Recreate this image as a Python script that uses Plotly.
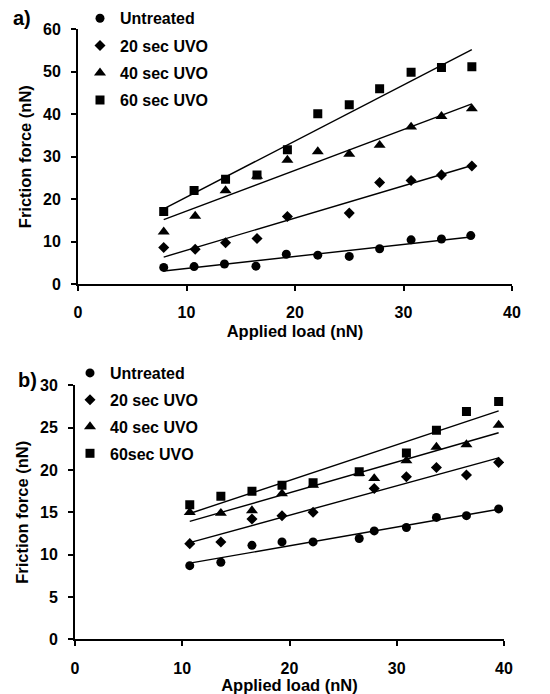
import numpy as np
import plotly.graph_objects as go

# ---- Panel a data ----
a_names = ["Untreated", "20 sec UVO", "40 sec UVO", "60 sec UVO"]
a_x_untreated = [7.9, 10.7, 13.5, 16.4, 19.2, 22.1, 25.0, 27.8, 30.7, 33.5, 36.2]
a_y_untreated = [3.9, 4.1, 4.7, 4.2, 7.0, 6.8, 6.5, 8.3, 10.4, 10.6, 11.4]
a_x_20 = [7.9, 10.8, 13.6, 16.5, 19.3, 25.0, 27.8, 30.7, 33.5, 36.3]
a_y_20 = [8.6, 8.2, 9.7, 10.7, 15.9, 16.7, 23.9, 24.4, 25.7, 27.8]
a_x_40 = [7.9, 10.8, 13.6, 16.5, 19.3, 22.1, 25.0, 27.8, 30.7, 33.5, 36.3]
a_y_40 = [12.3, 16.0, 22.0, 25.4, 29.2, 31.2, 30.6, 32.7, 37.0, 39.5, 41.3]
a_x_60 = [7.9, 10.7, 13.6, 16.5, 19.3, 22.1, 25.0, 27.8, 30.7, 33.5, 36.3]
a_y_60 = [17.1, 22.0, 24.7, 25.7, 31.6, 40.1, 42.2, 46.0, 49.9, 51.0, 51.2]

# ---- Panel b data ----
b_names = ["Untreated", "20 sec UVO", "40 sec UVO", "60sec UVO"]
b_x_untreated = [10.7, 13.6, 16.5, 19.3, 22.2, 26.5, 27.9, 30.9, 33.7, 36.5, 39.5]
b_y_untreated = [8.7, 9.1, 11.1, 11.5, 11.5, 11.9, 12.8, 13.2, 14.4, 14.6, 15.4]
b_x_20 = [10.7, 13.6, 16.5, 19.3, 22.2, 27.9, 30.9, 33.7, 36.5, 39.5]
b_y_20 = [11.3, 11.5, 14.2, 14.6, 15.0, 17.8, 19.2, 20.3, 19.4, 20.9]
b_x_40 = [10.7, 13.6, 16.5, 19.3, 22.2, 26.5, 27.9, 30.9, 33.7, 36.5, 39.5]
b_y_40 = [15.0, 14.9, 15.2, 17.2, 18.2, 19.6, 19.0, 21.1, 22.7, 23.0, 25.3]
b_x_60 = [10.7, 13.6, 16.5, 19.3, 22.2, 26.5, 30.9, 33.7, 36.5, 39.5]
b_y_60 = [15.9, 16.9, 17.5, 18.2, 18.5, 19.8, 22.0, 24.7, 26.9, 28.1]

symbols = ["circle", "diamond", "triangle-up", "square"]
sizes = [9, 8.5, 10.5, 9]

FONT = "Liberation Sans, Arial, sans-serif"

# page body has an 8px margin: build the figure to fill the rest of the window
OFF = 8
W, H = 550 - OFF, 694 - OFF

def px(x):
    return (x - OFF) / W

def py(y):
    return 1 - (y - OFF) / H

fig = go.Figure()

def add_panel(xs, ys, names, xa, ya, legend):
    for i, (x, y) in enumerate(zip(xs, ys)):
        fig.add_trace(go.Scatter(
            x=x, y=y, mode="markers", name=names[i],
            marker=dict(symbol=symbols[i], size=sizes[i], color="black"),
            xaxis=xa, yaxis=ya, legend=legend, legendgroup=legend + str(i),
        ))
        k, b = np.polyfit(x, y, 1)
        xl = np.array([min(x), max(x)])
        fig.add_trace(go.Scatter(
            x=xl, y=k * xl + b, mode="lines", line=dict(color="black", width=1.4),
            xaxis=xa, yaxis=ya, showlegend=False, hoverinfo="skip",
        ))

add_panel([a_x_untreated, a_x_20, a_x_40, a_x_60],
          [a_y_untreated, a_y_20, a_y_40, a_y_60], a_names, "x", "y", "legend")
add_panel([b_x_untreated, b_x_20, b_x_40, b_x_60],
          [b_y_untreated, b_y_20, b_y_40, b_y_60], b_names, "x2", "y2", "legend2")

axis_common = dict(
    showline=True, linecolor="black", linewidth=2, ticks="outside",
    ticklen=5, tickwidth=2, tickcolor="black", showgrid=False, zeroline=False,
    automargin=False,
    tickfont=dict(family=FONT, size=16, color="black", weight="bold"),
    title_font=dict(family=FONT, size=16.5, color="black", weight="bold"),
)
legend_font = dict(family=FONT, size=16, color="black", weight="bold")

fig.update_layout(
    width=W, height=H, margin=dict(l=0, r=0, t=0, b=0, autoexpand=False),
    plot_bgcolor="white", paper_bgcolor="white",
    font=dict(family=FONT, color="black"),
    xaxis=dict(domain=[px(78), px(512)], range=[0, 40], dtick=10, anchor="y",
               title=dict(text="Applied load (nN)", standoff=5), ticklabelstandoff=8, **axis_common),
    yaxis=dict(domain=[py(284), py(29.3)], range=[0, 60], dtick=10, anchor="x",
               title=dict(text="Friction force (nN)", standoff=7), ticklabelstandoff=7, **axis_common),
    xaxis2=dict(domain=[px(75), px(504)], range=[0, 40], dtick=10, anchor="y2",
                title=dict(text="Applied load (nN)", standoff=5), ticklabelstandoff=8, **axis_common),
    yaxis2=dict(domain=[py(639.3), py(385.3)], range=[0, 30], dtick=5, anchor="x2",
                title=dict(text="Friction force (nN)", standoff=7), ticklabelstandoff=7, **axis_common),
    legend=dict(x=px(80), y=py(1.3), xanchor="left", yanchor="top", font=legend_font,
                bgcolor="rgba(0,0,0,0)", traceorder="grouped", tracegroupgap=3.5, itemwidth=30),
    legend2=dict(x=px(70), y=py(356), xanchor="left", yanchor="top", font=legend_font,
                 bgcolor="rgba(0,0,0,0)", traceorder="grouped", tracegroupgap=3, itemwidth=30),
    annotations=[
        dict(text="a)", x=px(11), y=py(18), xref="paper", yref="paper", xanchor="left",
             yanchor="middle", showarrow=False,
             font=dict(family=FONT, size=20, color="black", weight="bold")),
        dict(text="b)", x=px(16), y=py(380), xref="paper", yref="paper", xanchor="left",
             yanchor="middle", showarrow=False,
             font=dict(family=FONT, size=20, color="black", weight="bold")),
    ],
)

fig.write_html("out.html")
